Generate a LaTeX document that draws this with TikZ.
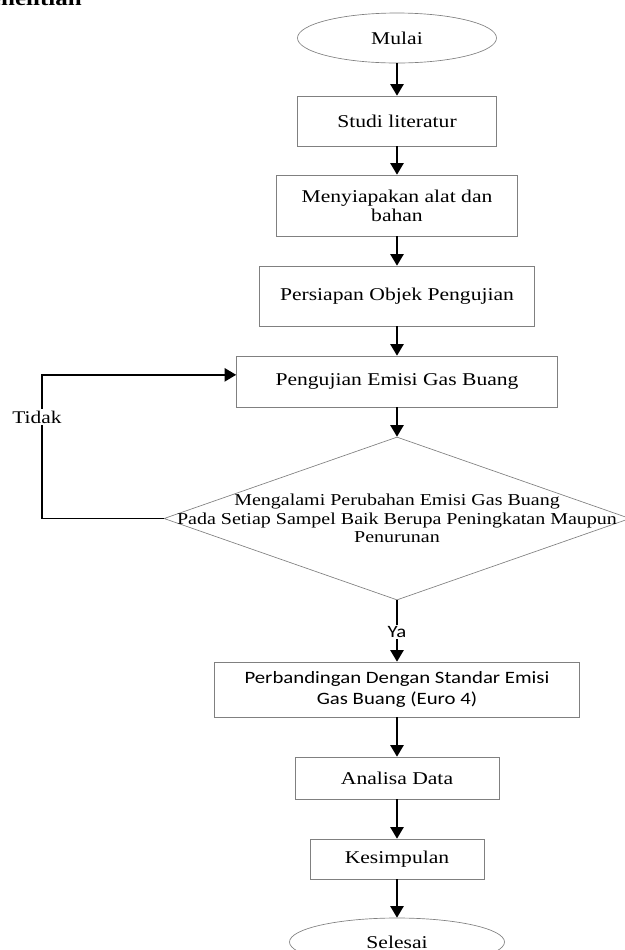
\documentclass[tikz,border=0pt]{standalone}
\usepackage{fontspec}
\setmainfont{Liberation Serif}[FakeStretch=1.2]
\newfontfamily\calibri{Carlito}[FakeStretch=1.2]
\usetikzlibrary{shapes.geometric,arrows.meta}

\begin{document}
\begin{tikzpicture}[
        x=0.6pt, y=-0.6pt,
        terminal/.style={ellipse, draw=gray, line width=0.4pt, inner sep=0pt, font=\fontsize{10.8}{12}\selectfont},
        process/.style={rectangle, draw=gray, line width=0.4pt, align=center, inner sep=0pt, font=\fontsize{10.8}{11.4}\selectfont},
        decision/.style={diamond, draw=gray, line width=0.4pt, inner sep=0pt},
        flow/.style={line width=1.1pt, draw=black, -{Triangle[length=7pt,width=8pt]}},
        tag/.style={fill=white, inner sep=1pt}
    ]
        \useasboundingbox (0,0) rectangle (625,950);

        \node[anchor=base east, inner sep=0pt, font=\bfseries\fontsize{12.5}{14}\selectfont] (judul) at (82,5) {Penelitian};

        \node[terminal, minimum width=119.4pt, minimum height=30pt] (mulai) at (397,38) {Mulai};
        \node[process, minimum width=119.4pt, minimum height=30pt] (studi) at (397,121) {Studi literatur};
        \node[process, minimum width=144.6pt, minimum height=36.6pt] (siapkan) at (397,205.5) {Menyiapakan alat dan\\bahan};
        \node[process, minimum width=165pt, minimum height=36pt] (objek) at (397,296) {Persiapan Objek Pengujian};
        \node[process, minimum width=192.6pt, minimum height=30.6pt] (uji) at (397,381.5) {Pengujian Emisi Gas Buang};

        \node[decision, minimum width=279.6pt, minimum height=97.8pt] (cek) at (397,518.5) {};
        \node[align=center, inner sep=0pt, font=\fontsize{10}{11}\selectfont] (cektext) at (cek.center)
            {Mengalami Perubahan Emisi Gas Buang\\Pada Setiap Sampel Baik Berupa Peningkatan Maupun\\Penurunan};

        \node[process, minimum width=219pt, minimum height=33pt, font=\calibri\fontsize{10.4}{12.6}\selectfont] (banding) at (397,689.5)
            {Perbandingan Dengan Standar Emisi\\Gas Buang (Euro 4)};
        \node[process, minimum width=122.4pt, minimum height=25.2pt] (analisa) at (397,778) {Analisa Data};
        \node[process, minimum width=104.4pt, minimum height=24pt] (simpul) at (397,859) {Kesimpulan};
        \node[terminal, minimum width=129pt, minimum height=28.8pt] (selesai) at (397,942) {Selesai};

        \draw[flow] (mulai) -- (studi);
        \draw[flow] (studi) -- (siapkan);
        \draw[flow] (siapkan) -- (objek);
        \draw[flow] (objek) -- (uji);
        \draw[flow] (uji) -- (cek);
        \draw[flow] (cek.west) -- ++(-122,0) |- ([yshift=4pt]uji.west);
        \draw[flow] (cek.south) -- (banding.north);
        \draw[flow] (banding) -- (analisa);
        \draw[flow] (analisa) -- (simpul);
        \draw[flow] (simpul) -- (selesai);

        \node[tag, font=\fontsize{10.7}{12}\selectfont] (tidak) at (37,417) {Tidak};
        \node[tag, font=\calibri\fontsize{10.4}{12}\selectfont] (ya) at (397,632) {Ya};
    \end{tikzpicture}
\end{document}
